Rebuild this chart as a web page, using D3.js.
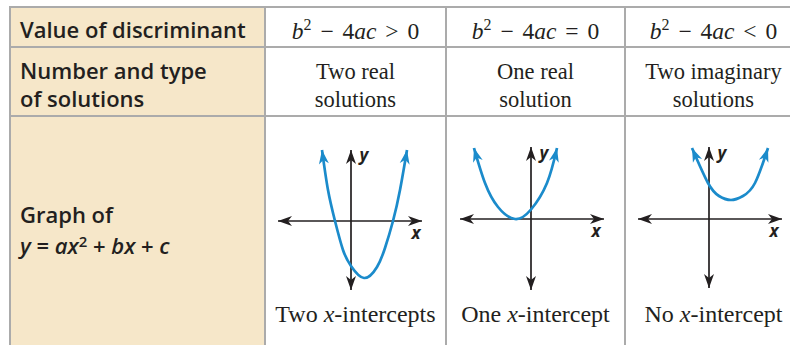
<!DOCTYPE html>
<html>
<head>
<meta charset="utf-8">
<script src="https://cdn.jsdelivr.net/npm/d3@7"></script>
<style>
  body { margin: 0; background: #fff; }
  svg { display: block; }
</style>
</head>
<body>
<div id="graph"></div>
<script>
// row labels down the left column
let rowLabels = [["Value of discriminant"], ["Number and type", "of solutions"], ["Graph of"]];
// discriminant sign per column
let signs = [">", "=", "<"];
let solutionLines = [["Two real", "solutions"], ["One real", "solution"], ["Two imaginary", "solutions"]];
let captionWords = ["Two", "One", "No"];
let captionEnds = ["-intercepts", "-intercept", "-intercept"];
// curve points, in grid units (1 unit = 10px)
let curveTwo = [[-2.9, 7.1], [-2.3, 3.1], [-1.6, 0], [-0.8, -2.9], [0, -4.5], [1.3, -5.7], [2.6, -4.6], [3.4, -2.7], [4.2, 0], [4.9, 3.1], [5.6, 7.1]];
let curveOne = [[-5.7, 7.1], [-4.6, 3.6], [-3.3, 1.2], [-1.6, 0], [0, 0.95], [1.6, 3.6], [2.6, 7.1]];
let curveNone = [[-1.7, 7.1], [-0.1, 3.6], [1.0, 2.3], [2.2, 1.9], [3.4, 2.3], [4.6, 3.6], [5.9, 7.1]];
let curves = [curveTwo, curveOne, curveNone];
// axis ends: [xmin, xmax, ymin, ymax]
let axisEnds = [[-7.3, 7.1, -6.9, 7.1], [-7.1, 7.3, -7.1, 7.2], [-7.1, 7.3, -6.9, 7.2]];

let W = 790, H = 345;
let colEdges = [10, 265, 446, 625, 802];
let rowEdges = [7, 47, 116, 360];
let origins = [[351, 221], [531, 219], [709, 219]];
let beige = "#f6e7c9", lineGray = "#ababab", ink = "#231f20", blue = "#1b8bcb";
let sans = "'Open Sans', 'Noto Sans', sans-serif";
let serif = "'Liberation Serif', 'DejaVu Serif', serif";

let svg = d3.select("#graph").append("svg").attr("width", W).attr("height", H);

let defs = svg.append("defs");
let addArrow = function(id, color) {
    defs.append("marker")
        .attr("id", id)
        .attr("viewBox", "-15 -6 16 12")
        .attr("refX", 0).attr("refY", 0)
        .attr("markerWidth", 16).attr("markerHeight", 12)
        .attr("markerUnits", "userSpaceOnUse")
        .attr("orient", "auto-start-reverse")
        .append("path")
        .attr("d", "M0,0 L-14,-5 L-10,0 L-14,5 Z")
        .attr("fill", color);
};
addArrow("arrK", ink);
addArrow("arrB", blue);

// header column fill
svg.append("rect")
    .attr("x", colEdges[0]).attr("y", rowEdges[0])
    .attr("width", colEdges[1] - colEdges[0]).attr("height", H)
    .attr("fill", beige);

// grid lines
let grid = svg.append("g").attr("stroke", lineGray).attr("stroke-width", 2);
grid.selectAll(".h").data(rowEdges.slice(0, 3)).enter().append("line")
    .attr("x1", colEdges[0] - 1).attr("x2", W).attr("y1", d => d).attr("y2", d => d);
grid.selectAll(".v").data(colEdges.slice(0, 4)).enter().append("line")
    .attr("x1", d => d).attr("x2", d => d).attr("y1", rowEdges[0]).attr("y2", H);

// left column labels
let labelBase = [[38], [79, 107], [223]];
rowLabels.forEach(function(lines, r) {
    lines.forEach(function(t, i) {
        svg.append("text")
            .attr("x", 20).attr("y", labelBase[r][i])
            .attr("font-family", sans).attr("font-weight", 600).attr("font-size", 22)
            .attr("fill", ink).text(t);
    });
});

// writes a run of pieces: [text, style] where style is "i", "sup" or ""
let writeRun = function(sel, pieces, supShift) {
    let lastSup = false;
    pieces.forEach(function(p) {
        let ts = sel.append("tspan").text(p[0]);
        if (p[1] == "i") ts.attr("font-style", "italic");
        if (p[1] == "sup") {
            ts.attr("font-size", "68%").attr("dy", -supShift);
            lastSup = true;
        } else if (lastSup) {
            ts.attr("dy", supShift);
            lastSup = false;
        }
    });
};

// y = ax^2 + bx + c
let formula = svg.append("text")
    .attr("x", 20).attr("y", 254)
    .attr("font-family", sans).attr("font-weight", 600).attr("font-size", 22)
    .attr("fill", ink);
writeRun(formula, [["y", "i"], [" = ", ""], ["ax", "i"], ["2", "sup"], [" + ", ""], ["bx", "i"], [" + ", ""], ["c", "i"]], 7);

let colMid = function(c) { return (colEdges[c + 1] + colEdges[c + 2]) / 2; };

signs.forEach(function(s, c) {
    let t = svg.append("text")
        .attr("x", colMid(c)).attr("y", 39)
        .attr("text-anchor", "middle")
        .attr("font-family", serif).attr("font-size", 23.5)
        .attr("word-spacing", 3)
        .attr("fill", ink);
    writeRun(t, [["b", "i"], ["2", "sup"], [" \u2212 4", ""], ["ac", "i"], [" " + s + " 0", ""]], 9);
});

solutionLines.forEach(function(lines, c) {
    lines.forEach(function(l, i) {
        svg.append("text")
            .attr("x", colMid(c)).attr("y", [79, 107][i])
            .attr("text-anchor", "middle")
            .attr("font-family", serif).attr("font-size", 22.5)
            .attr("fill", ink).text(l);
    });
});

captionWords.forEach(function(w, c) {
    let t = svg.append("text")
        .attr("x", colMid(c)).attr("y", 322)
        .attr("text-anchor", "middle")
        .attr("font-family", serif).attr("font-size", 24)
        .attr("fill", ink);
    writeRun(t, [[w + " ", ""], ["x", "i"], [captionEnds[c], ""]], 0);
});

// the three graphs
curves.forEach(function(pts, g) {
    let o = origins[g];
    let xs = d3.scaleLinear().domain([0, 1]).range([o[0], o[0] + 10]);
    let ys = d3.scaleLinear().domain([0, 1]).range([o[1], o[1] - 10]);
    let e = axisEnds[g];
    let gg = svg.append("g");

    gg.append("line")
        .attr("x1", xs(e[0])).attr("x2", xs(e[1]))
        .attr("y1", ys(0)).attr("y2", ys(0))
        .attr("stroke", ink).attr("stroke-width", 1.7)
        .attr("marker-start", "url(#arrK)").attr("marker-end", "url(#arrK)");
    gg.append("line")
        .attr("x1", xs(0)).attr("x2", xs(0))
        .attr("y1", ys(e[3])).attr("y2", ys(e[2]))
        .attr("stroke", ink).attr("stroke-width", 1.7)
        .attr("marker-start", "url(#arrK)").attr("marker-end", "url(#arrK)");

    let line = d3.line().x(d => xs(d[0])).y(d => ys(d[1])).curve(d3.curveNatural);
    gg.append("path")
        .attr("d", line(pts))
        .attr("fill", "none")
        .attr("stroke", blue).attr("stroke-width", 2.7)
        .attr("marker-start", "url(#arrB)").attr("marker-end", "url(#arrB)");

    gg.append("text")
        .attr("x", xs(0) + 13).attr("y", ys(0) - 60)
        .attr("text-anchor", "middle")
        .attr("font-family", sans).attr("font-weight", 700).attr("font-style", "italic")
        .attr("font-size", 17).attr("fill", ink).text("y");
    gg.append("text")
        .attr("x", xs(6.5)).attr("y", ys(0) + 18)
        .attr("text-anchor", "middle")
        .attr("font-family", sans).attr("font-weight", 700).attr("font-style", "italic")
        .attr("font-size", 17).attr("fill", ink).text("x");
});
</script>
</body>
</html>
